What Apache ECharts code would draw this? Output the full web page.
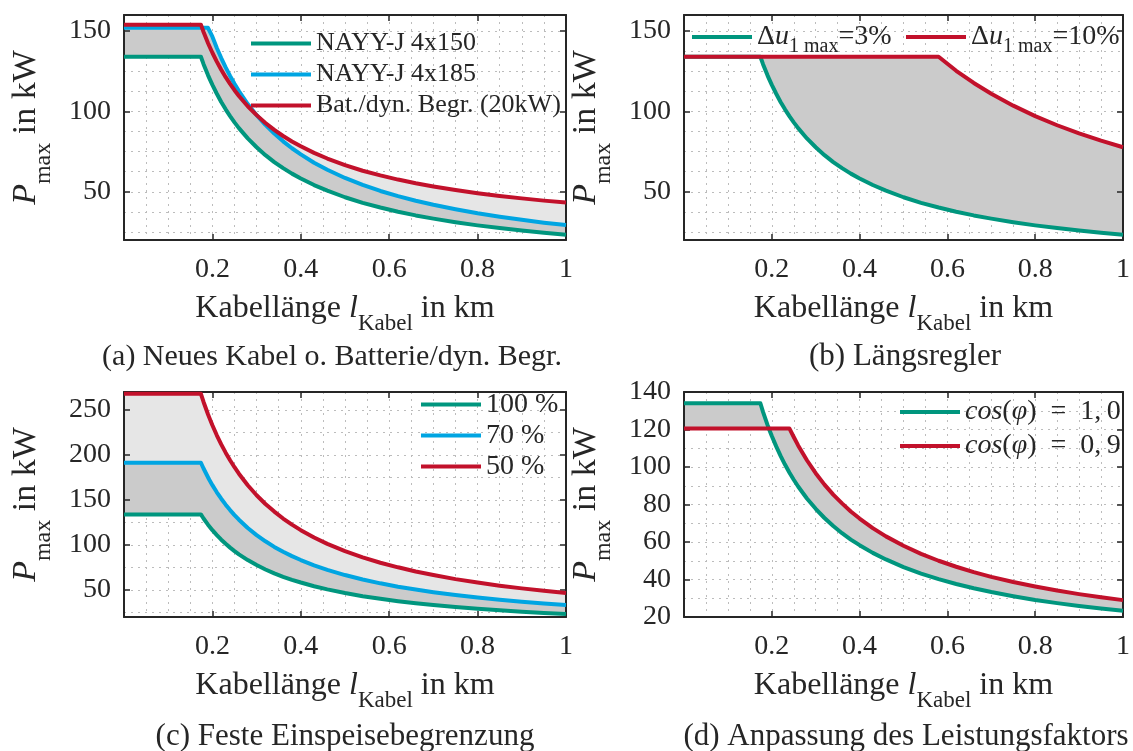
<!DOCTYPE html>
<html>
<head>
<meta charset="utf-8">
<script src="https://cdn.jsdelivr.net/npm/echarts@6/dist/echarts.min.js"></script>
<style>
  html, body { margin: 0; padding: 0; background: #ffffff; }
  #chart { width: 1133px; height: 751px; }
</style>
</head>
<body>
<div id="chart"></div>
<script>
// Cable length sample points in km (shared by every curve)
const lengthKm = [0, 0.174, 0.18, 0.19, 0.193, 0.2, 0.21, 0.22, 0.23, 0.24, 0.25, 0.26, 0.28, 0.3,
  0.32, 0.34, 0.36, 0.38, 0.4, 0.43, 0.46, 0.5, 0.54, 0.58, 0.62, 0.66, 0.7, 0.75, 0.8, 0.85, 0.9, 0.95, 1.0];

// Maximum feed-in power P_max in kW
const pNayy150 = [134, 134, 129.4, 122.6, 120.7, 116.5, 111.0, 105.9, 101.3, 97.1, 93.2, 89.6, 83.2, 77.7,
  72.8, 68.5, 64.7, 61.3, 58.3, 54.2, 50.7, 46.6, 43.1, 40.2, 37.6, 35.3, 33.3, 31.1, 29.1, 27.4, 25.9, 24.5, 23.3];
const pNayy185 = [152, 152, 152, 152, 151.8, 146.5, 139.5, 133.2, 127.4, 122.1, 117.2, 112.7, 104.6, 97.7,
  91.6, 86.2, 81.4, 77.1, 73.3, 68.1, 63.7, 58.6, 54.3, 50.5, 47.3, 44.4, 41.9, 39.1, 36.6, 34.5, 32.6, 30.8, 29.3];
const pBattery = [154, 154, 149.4, 142.6, 140.7, 136.5, 131.0, 125.9, 121.3, 117.1, 113.2, 109.6, 103.2, 97.7,
  92.8, 88.5, 84.7, 81.3, 78.3, 74.2, 70.7, 66.6, 63.1, 60.2, 57.6, 55.3, 53.3, 51.1, 49.1, 47.4, 45.9, 44.5, 43.3];
const pDu10 = [134, 134, 134, 134, 134, 134, 134, 134, 134, 134, 134, 134, 134, 134,
  134, 134, 134, 134, 134, 134, 134, 134, 134, 134, 125.3, 117.7, 111.0, 103.6, 97.1, 91.4, 86.3, 81.8, 77.7];
const pFeed70 = [191.4, 191.4, 185.0, 175.3, 172.5, 166.5, 158.6, 151.4, 144.8, 138.8, 133.2, 128.1, 118.9, 111.0,
  104.1, 97.9, 92.5, 87.6, 83.3, 77.4, 72.4, 66.6, 61.7, 57.4, 53.7, 50.5, 47.6, 44.4, 41.6, 39.2, 37.0, 35.1, 33.3];
const pFeed50 = [268, 268, 258.9, 245.3, 241.5, 233.0, 221.9, 211.8, 202.6, 194.2, 186.4, 179.2, 166.4, 155.3,
  145.6, 137.1, 129.4, 122.6, 116.5, 108.4, 101.3, 93.2, 86.3, 80.3, 75.2, 70.6, 66.6, 62.1, 58.3, 54.8, 51.8, 49.1, 46.6];
const pCos09 = [120.6, 120.6, 120.6, 120.6, 120.6, 120.6, 120.6, 120.6, 120.6, 120.6, 116.0, 111.5, 103.6, 96.7,
  90.6, 85.3, 80.6, 76.3, 72.5, 67.4, 63.0, 58.0, 53.7, 50.0, 46.8, 43.9, 41.4, 38.7, 36.3, 34.1, 32.2, 30.5, 29.0];

// Tick labels
const xTickLabels = [0.2, 0.4, 0.6, 0.8, 1];
const yTicksAB = [50, 100, 150];
const yTicksC = [50, 100, 150, 200, 250];
const yTicksD = [20, 40, 60, 80, 100, 120, 140];

// Dotted grid line positions on the power axes
const yGridAB = [25, 37.5, 50, 62.5, 75, 87.5, 100, 112.5, 125, 137.5, 150];
const yGridC = [25, 50, 75, 100, 125, 150, 175, 200, 225, 250];
const yGridD = [30, 40, 50, 60, 70, 80, 90, 100, 110, 120, 130];

const FONT = '"Liberation Serif", "Times New Roman", serif';
const INK = '#262626';
const GREEN = '#00967e';
const BLUE = '#00a5e2';
const RED = '#c2112b';
const FILL_DARK = '#cbcbcb';
const FILL_LIGHT = '#e6e6e6';
const gridStyle = { color: '#bcbcbc', width: 1, type: [2, 5] };

const panels = [
  {
    rect: { left: 124, top: 15, width: 442, height: 225 },
    yMin: 20, yMax: 160, yTicks: yTicksAB, yGrid: yGridAB,
    caption: '(a) Neues Kabel o. Batterie/dyn. Begr.', captionX: 332, captionY: 357, captionSize: 30,
    curves: [
      { name: 'NAYY-J 4x150', values: pNayy150, color: GREEN },
      { name: 'NAYY-J 4x185', values: pNayy185, color: BLUE },
      { name: 'Bat./dyn. Begr. (20kW)', values: pBattery, color: RED }
    ],
    bands: [
      { lo: pNayy185, hi: pBattery, fill: FILL_LIGHT },
      { lo: pNayy150, hi: pNayy185, fill: FILL_DARK }
    ],
    legends: [
      { left: 251, top: 28, orient: 'vertical', lineHeight: 31, fontSize: 26,
        names: ['NAYY-J 4x150', 'NAYY-J 4x185', 'Bat./dyn. Begr. (20kW)'] }
    ]
  },
  {
    rect: { left: 684, top: 15, width: 442, height: 225 },
    yMin: 20, yMax: 160, yTicks: yTicksAB, yGrid: yGridAB,
    caption: '(b) Längsregler', captionX: 905, captionY: 357, captionSize: 31,
    curves: [
      { name: 'Δu 3%', values: pNayy150, color: GREEN },
      { name: 'Δu 10%', values: pDu10, color: RED }
    ],
    bands: [
      { lo: pNayy150, hi: pDu10, fill: FILL_DARK }
    ],
    legends: [
      { left: 692, top: 23, orient: 'horizontal', fontSize: 28, names: ['Δu 3%'] },
      { left: 906, top: 23, orient: 'horizontal', fontSize: 28, names: ['Δu 10%'] }
    ]
  },
  {
    rect: { left: 124, top: 392, width: 442, height: 225 },
    yMin: 20, yMax: 270, yTicks: yTicksC, yGrid: yGridC,
    caption: '(c) Feste Einspeisebegrenzung', captionX: 345, captionY: 737, captionSize: 31,
    curves: [
      { name: '100 %', values: pNayy150, color: GREEN },
      { name: '70 %', values: pFeed70, color: BLUE },
      { name: '50 %', values: pFeed50, color: RED }
    ],
    bands: [
      { lo: pFeed70, hi: pFeed50, fill: FILL_LIGHT },
      { lo: pNayy150, hi: pFeed70, fill: FILL_DARK }
    ],
    legends: [
      { left: 421, top: 389, orient: 'vertical', lineHeight: 31, fontSize: 28, names: ['100 %', '70 %', '50 %'] }
    ]
  },
  {
    rect: { left: 684, top: 392, width: 441, height: 225 },
    yMin: 20, yMax: 140, yTicks: yTicksD, yGrid: yGridD,
    caption: '(d) Anpassung des Leistungsfaktors', captionX: 906, captionY: 737, captionSize: 31,
    curves: [
      { name: 'cos 1,0', values: pNayy150, color: GREEN },
      { name: 'cos 0,9', values: pCos09, color: RED }
    ],
    bands: [
      { lo: pNayy150, hi: pCos09, fill: FILL_DARK }
    ],
    legends: [
      { left: 900, top: 395, orient: 'vertical', lineHeight: 34, fontSize: 28, names: ['cos 1,0', 'cos 0,9'] }
    ]
  }
];

// Rich-text legend labels (math notation)
const legendText = {
  'Δu 3%': '{n|Δ}{i|u}{s|1 max}{n|=3%}',
  'Δu 10%': '{n|Δ}{i|u}{s|1 max}{n|=10%}',
  'cos 1,0': '{i|cos}({i|φ})\u2002=\u20021,\u20090',
  'cos 0,9': '{i|cos}({i|φ})\u2002=\u20020,\u20099'
};

function legendRich(size) {
  return {
    n: { fontFamily: FONT, fontSize: size, color: INK },
    i: { fontFamily: FONT, fontSize: size, color: INK, fontStyle: 'italic' },
    s: { fontFamily: FONT, fontSize: Math.round(size * 0.72), color: INK, padding: [20, 0, 0, 0] }
  };
}

const boxLine = { show: true, onZero: false, lineStyle: { color: INK, width: 2 } };
const boxTick = { show: true, inside: true, length: 6, lineStyle: { color: INK, width: 1.5 } };
const tickFont = { fontFamily: FONT, fontSize: 28, color: INK };

const grid = [], xAxis = [], yAxis = [], series = [], legend = [], graphic = [];

panels.forEach((p, i) => {
  grid.push(Object.assign({ containLabel: false }, p.rect));

  // x: dotted grid, bottom box axis with labels, top box axis
  xAxis.push({
    gridIndex: i, type: 'value', min: 0, max: 1, interval: 0.2, z: 0,
    axisLine: { show: false }, axisTick: { show: false }, axisLabel: { show: false },
    splitLine: { show: true, lineStyle: gridStyle },
    minorTick: { show: false, splitNumber: 4 },
    minorSplitLine: { show: true, lineStyle: gridStyle }
  });
  xAxis.push({
    gridIndex: i, type: 'value', position: 'bottom', min: 0, max: 1, interval: 0.2, z: 2,
    axisLine: boxLine, axisTick: boxTick,
    axisLabel: Object.assign({ show: true, customValues: xTickLabels, margin: 16 }, tickFont),
    splitLine: { show: false },
    name: 'Kabellänge {i|l}{s|Kabel} in km', nameLocation: 'middle', nameGap: 42,
    nameTextStyle: {
      fontFamily: FONT, fontSize: 32, color: INK,
      rich: {
        i: { fontFamily: FONT, fontSize: 32, color: INK, fontStyle: 'italic' },
        s: { fontFamily: FONT, fontSize: 23, color: INK, padding: [30, 0, 0, 0] }
      }
    }
  });
  xAxis.push({
    gridIndex: i, type: 'value', position: 'top', min: 0, max: 1, interval: 0.2, z: 2,
    axisLine: boxLine, axisTick: boxTick, axisLabel: { show: false }, splitLine: { show: false }
  });

  // y: dotted grid, left box axis with labels, right box axis
  yAxis.push({
    gridIndex: i, type: 'value', min: p.yMin, max: p.yMax, z: 0,
    axisLine: { show: false }, axisTick: { show: false, customValues: p.yGrid },
    axisLabel: { show: false },
    splitLine: { show: true, lineStyle: gridStyle }
  });
  yAxis.push({
    gridIndex: i, type: 'value', position: 'left', min: p.yMin, max: p.yMax, z: 2,
    axisLine: boxLine, axisTick: Object.assign({ customValues: p.yTicks }, boxTick),
    axisLabel: Object.assign({ show: true, customValues: p.yTicks, margin: 13 }, tickFont),
    splitLine: { show: false },
    name: '{i|P}{s|max} in kW', nameLocation: 'middle', nameRotate: 90, nameGap: 68,
    nameTextStyle: {
      fontFamily: FONT, fontSize: 34, color: INK,
      rich: {
        i: { fontFamily: FONT, fontSize: 34, color: INK, fontStyle: 'italic' },
        s: { fontFamily: FONT, fontSize: 24, color: INK, padding: [36, 0, 0, 0] }
      }
    }
  });
  yAxis.push({
    gridIndex: i, type: 'value', position: 'right', min: p.yMin, max: p.yMax, z: 2,
    axisLine: boxLine, axisTick: Object.assign({ customValues: p.yTicks }, boxTick),
    axisLabel: { show: false }, splitLine: { show: false }
  });

  const xi = 3 * i + 1, yi = 3 * i + 1;

  // shaded bands between two curves
  p.bands.forEach(b => {
    series.push({
      type: 'custom', xAxisIndex: xi, yAxisIndex: yi, z: 1, silent: true, animation: false,
      data: lengthKm.map((x, k) => [x, b.lo[k], b.hi[k]]),
      encode: { x: 0, y: [1, 2] },
      renderItem: (params, api) => {
        if (params.dataIndex !== 0) return;
        const pts = [];
        for (let k = 0; k < lengthKm.length; k++) pts.push(api.coord([lengthKm[k], b.hi[k]]));
        for (let k = lengthKm.length - 1; k >= 0; k--) pts.push(api.coord([lengthKm[k], b.lo[k]]));
        return { type: 'polygon', shape: { points: pts }, style: { fill: b.fill } };
      }
    });
  });

  // curves
  p.curves.forEach(c => {
    series.push({
      type: 'line', name: c.name, xAxisIndex: xi, yAxisIndex: yi, z: 3,
      silent: true, animation: false, showSymbol: false, symbol: 'none', color: c.color,
      data: lengthKm.map((x, k) => [x, c.values[k]]),
      lineStyle: { color: c.color, width: 4, join: 'round' },
      itemStyle: { color: c.color }
    });
  });

  p.legends.forEach(l => {
    const textStyle = { fontFamily: FONT, fontSize: l.fontSize, color: INK, rich: legendRich(l.fontSize) };
    if (l.lineHeight) textStyle.lineHeight = l.lineHeight;
    legend.push({
      left: l.left, top: l.top, orient: l.orient, padding: 0, itemGap: 0,
      itemWidth: 60, itemHeight: 4, icon: 'rect', selectedMode: false,
      data: l.names, textStyle,
      formatter: name => legendText[name] || name
    });
  });

  graphic.push({
    type: 'text', x: p.captionX, y: p.captionY, silent: true,
    style: {
      text: p.caption, fontFamily: FONT, fontSize: p.captionSize, fill: INK,
      align: 'center', verticalAlign: 'middle', textAlign: 'center', textVerticalAlign: 'middle'
    }
  });
});

const chart = echarts.init(document.getElementById('chart'), null, { renderer: 'canvas' });
chart.setOption({
  backgroundColor: '#ffffff',
  animation: false,
  grid, xAxis, yAxis, series, legend, graphic
});
</script>
</body>
</html>
